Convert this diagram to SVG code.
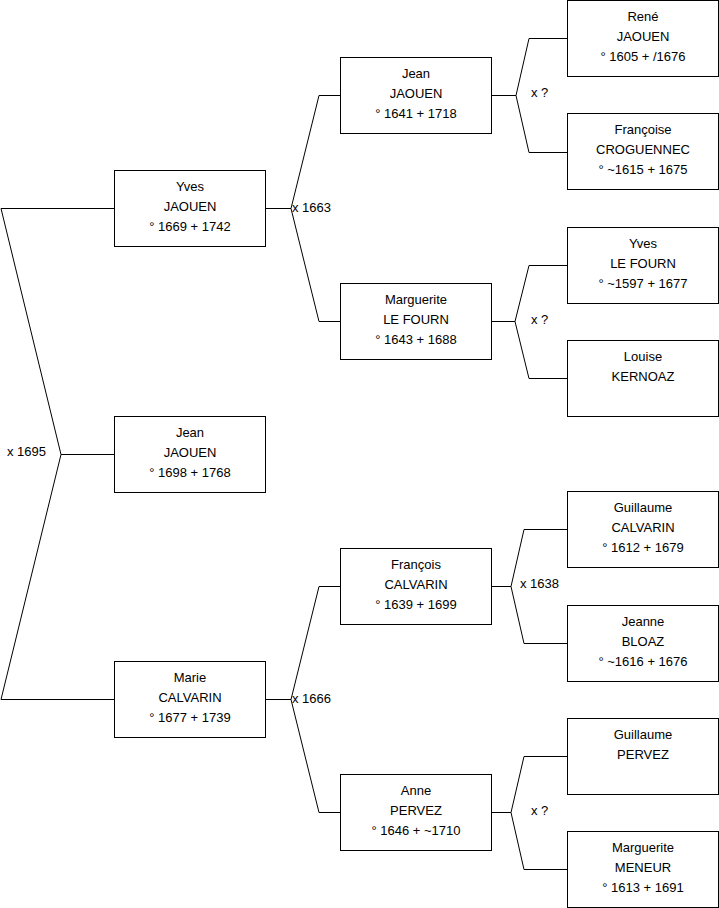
<svg xmlns="http://www.w3.org/2000/svg" width="719" height="908" viewBox="0 0 719 908">
<style>
.box{fill:#fff;stroke:#000;stroke-width:1}
.ln{fill:none;stroke:#000;stroke-width:1}
text{font-family:"Liberation Sans",Arial,sans-serif;font-size:13px;fill:#000}
.c{text-anchor:middle}
</style>
<rect width="719" height="908" fill="#fff"/>
<g id="connectors">
<polyline class="ln" points="114,208.5 1,208.5 61,454.5 1,699.5 114,699.5"/>
<polyline class="ln" points="61,454.5 114,454.5"/>
<polyline class="ln" points="265,208.5 291,208.5"/>
<polyline class="ln" points="340,95.5 319,95.5 291,208.5 319,321.5 340,321.5"/>
<polyline class="ln" points="265,699.5 291,699.5"/>
<polyline class="ln" points="340,586.5 319,586.5 291,699.5 319,812.5 340,812.5"/>
<polyline class="ln" points="491,95.5 516,95.5"/>
<polyline class="ln" points="567,38.5 529,38.5 516,95.5 529,152.5 567,152.5"/>
<polyline class="ln" points="491,321.5 515,321.5"/>
<polyline class="ln" points="567,265.5 529,265.5 515,321.5 529,378.5 567,378.5"/>
<polyline class="ln" points="491,586.5 511,586.5"/>
<polyline class="ln" points="567,529.5 524,529.5 511,586.5 524,643.5 567,643.5"/>
<polyline class="ln" points="491,812.5 511,812.5"/>
<polyline class="ln" points="567,756.5 524,756.5 511,812.5 524,869.5 567,869.5"/>
<text x="7" y="456">x 1695</text>
<text x="292" y="212">x 1663</text>
<text x="292" y="703">x 1666</text>
<text x="531" y="97">x ?</text>
<text x="531" y="324">x ?</text>
<text x="520" y="588">x 1638</text>
<text x="531" y="815">x ?</text>
</g>
<g id="n-yves-jaouen"><rect class="box" x="114.5" y="170.5" width="151" height="76"/>
<text class="c" x="190" y="191">Yves</text><text class="c" x="190" y="211">JAOUEN</text><text class="c" x="190" y="231">° 1669 + 1742</text></g>
<g id="n-jean-jaouen-1698"><rect class="box" x="114.5" y="416.5" width="151" height="76"/>
<text class="c" x="190" y="437">Jean</text><text class="c" x="190" y="457">JAOUEN</text><text class="c" x="190" y="477">° 1698 + 1768</text></g>
<g id="n-marie-calvarin"><rect class="box" x="114.5" y="661.5" width="151" height="76"/>
<text class="c" x="190" y="682">Marie</text><text class="c" x="190" y="702">CALVARIN</text><text class="c" x="190" y="722">° 1677 + 1739</text></g>
<g id="n-jean-jaouen-1641"><rect class="box" x="340.5" y="57.5" width="151" height="76"/>
<text class="c" x="416" y="78">Jean</text><text class="c" x="416" y="98">JAOUEN</text><text class="c" x="416" y="118">° 1641 + 1718</text></g>
<g id="n-marguerite-le-fourn"><rect class="box" x="340.5" y="283.5" width="151" height="76"/>
<text class="c" x="416" y="304">Marguerite</text><text class="c" x="416" y="324">LE FOURN</text><text class="c" x="416" y="344">° 1643 + 1688</text></g>
<g id="n-francois-calvarin"><rect class="box" x="340.5" y="548.5" width="151" height="76"/>
<text class="c" x="416" y="569">François</text><text class="c" x="416" y="589">CALVARIN</text><text class="c" x="416" y="609">° 1639 + 1699</text></g>
<g id="n-anne-pervez"><rect class="box" x="340.5" y="774.5" width="151" height="76"/>
<text class="c" x="416" y="795">Anne</text><text class="c" x="416" y="815">PERVEZ</text><text class="c" x="416" y="835">° 1646 + ~1710</text></g>
<g id="n-rene-jaouen"><rect class="box" x="567.5" y="0.5" width="151" height="76"/>
<text class="c" x="643" y="21">René</text><text class="c" x="643" y="41">JAOUEN</text><text class="c" x="643" y="61">° 1605 + /1676</text></g>
<g id="n-francoise-croguennec"><rect class="box" x="567.5" y="113.5" width="151" height="76"/>
<text class="c" x="643" y="134">Françoise</text><text class="c" x="643" y="154">CROGUENNEC</text><text class="c" x="643" y="174">° ~1615 + 1675</text></g>
<g id="n-yves-le-fourn"><rect class="box" x="567.5" y="227.5" width="151" height="76"/>
<text class="c" x="643" y="248">Yves</text><text class="c" x="643" y="268">LE FOURN</text><text class="c" x="643" y="288">° ~1597 + 1677</text></g>
<g id="n-louise-kernoaz"><rect class="box" x="567.5" y="340.5" width="151" height="76"/>
<text class="c" x="643" y="361">Louise</text><text class="c" x="643" y="381">KERNOAZ</text></g>
<g id="n-guillaume-calvarin"><rect class="box" x="567.5" y="491.5" width="151" height="76"/>
<text class="c" x="643" y="512">Guillaume</text><text class="c" x="643" y="532">CALVARIN</text><text class="c" x="643" y="552">° 1612 + 1679</text></g>
<g id="n-jeanne-bloaz"><rect class="box" x="567.5" y="605.5" width="151" height="76"/>
<text class="c" x="643" y="626">Jeanne</text><text class="c" x="643" y="646">BLOAZ</text><text class="c" x="643" y="666">° ~1616 + 1676</text></g>
<g id="n-guillaume-pervez"><rect class="box" x="567.5" y="718.5" width="151" height="76"/>
<text class="c" x="643" y="739">Guillaume</text><text class="c" x="643" y="759">PERVEZ</text></g>
<g id="n-marguerite-meneur"><rect class="box" x="567.5" y="831.5" width="151" height="76"/>
<text class="c" x="643" y="852">Marguerite</text><text class="c" x="643" y="872">MENEUR</text><text class="c" x="643" y="892">° 1613 + 1691</text></g>
</svg>
